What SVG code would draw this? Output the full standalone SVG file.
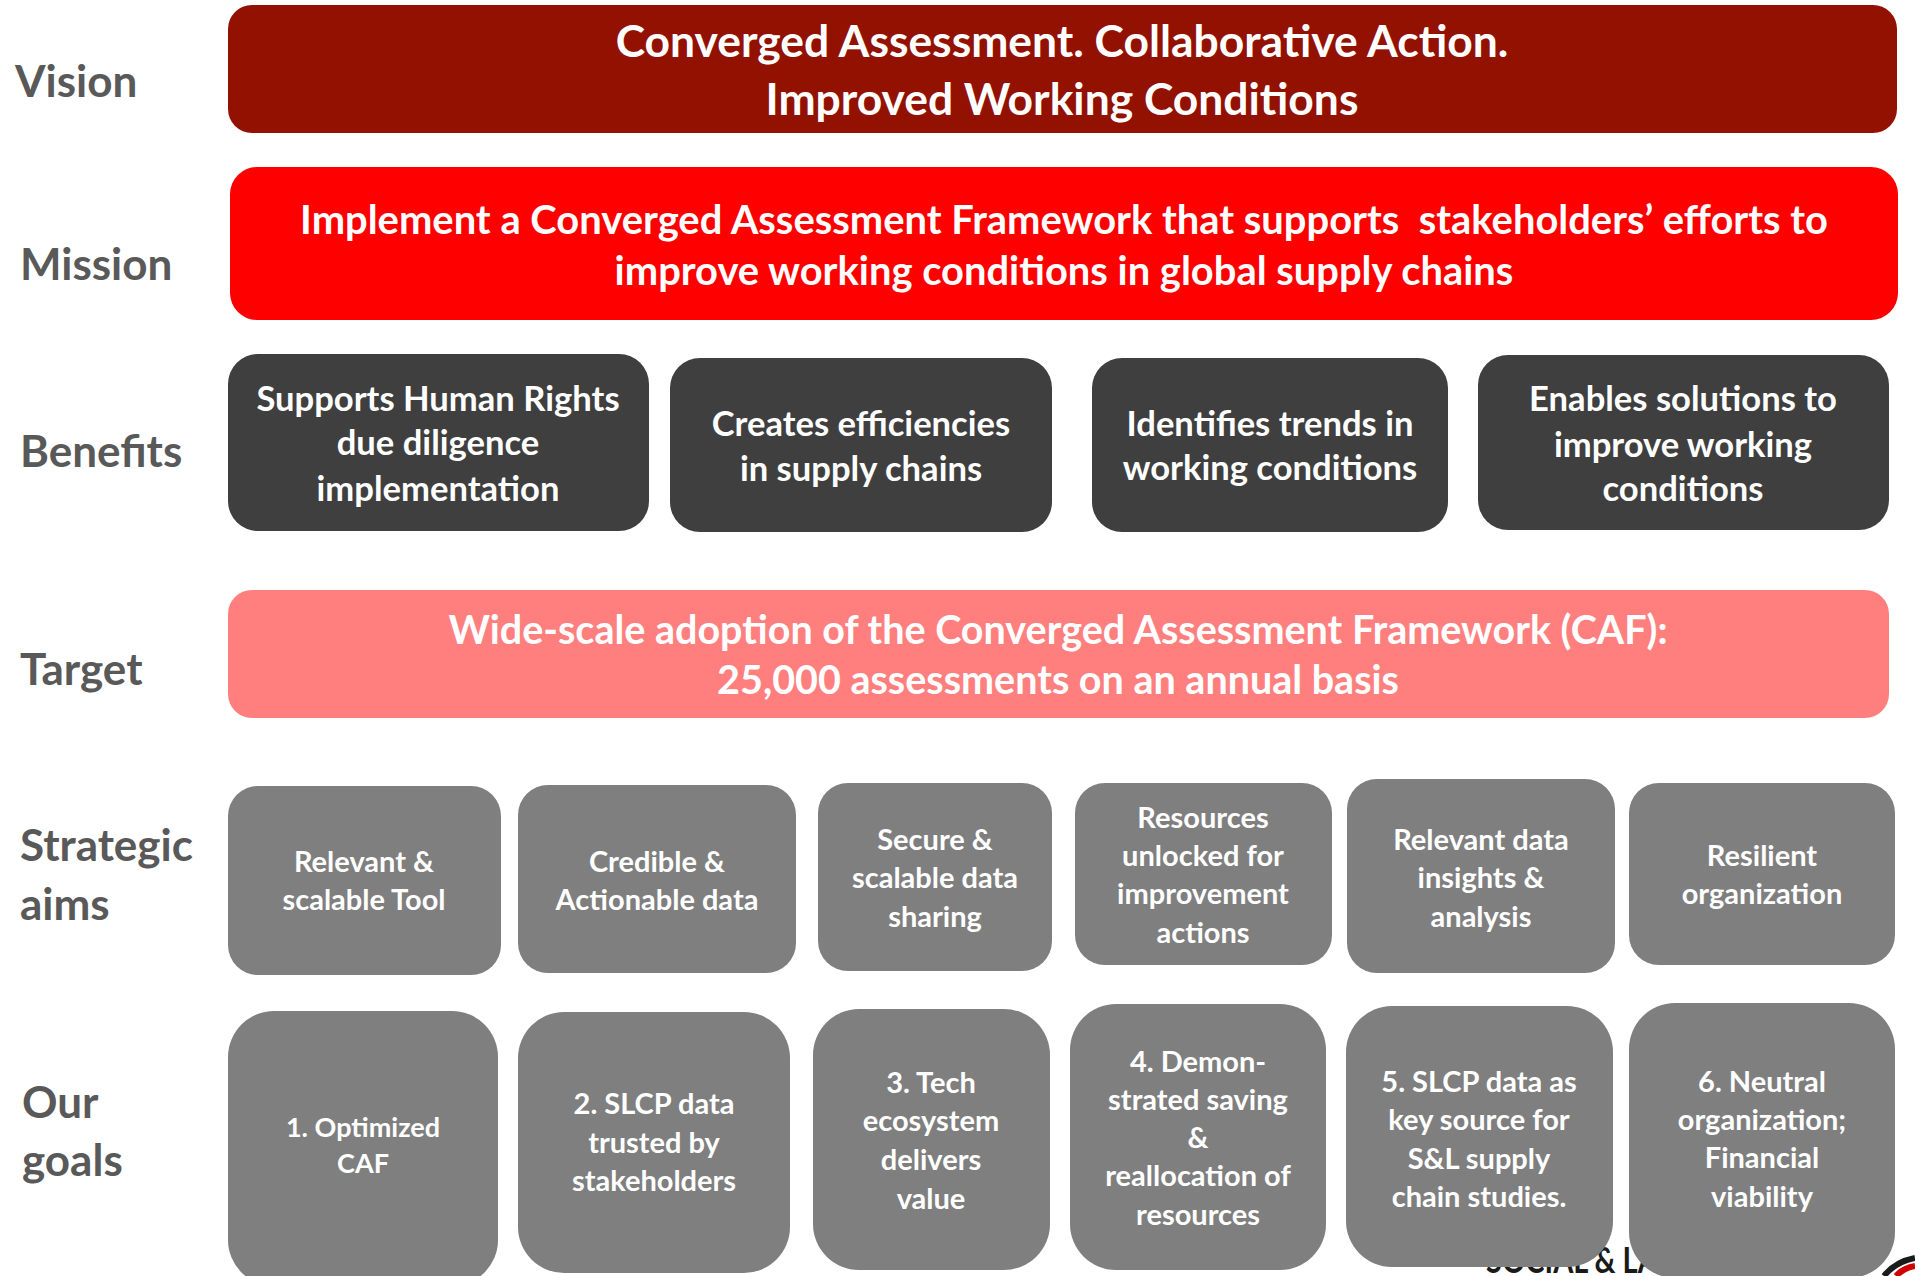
<svg xmlns="http://www.w3.org/2000/svg" width="1915" height="1276" viewBox="0 0 1915 1276">
  <style>
    text { font-family: Lato, "Open Sans", "Liberation Sans", sans-serif; font-weight: 700; }
    .lbl { fill: #595959; font-size: 44px; }
    .c { fill: #ffffff; text-anchor: middle; }
    .vis { font-size: 44.4px; }
    .mis { font-size: 39.9px; white-space: pre; }
    .ben { font-size: 34.6px; }
    .tgt { font-size: 39.5px; }
    .sm { font-size: 29px; }
    .sm2 { font-size: 27px; }
    .b-vision { fill: #931100; }
    .b-mission { fill: #ff0000; }
    .b-benefit { fill: #3f3f3f; }
    .b-target { fill: #ff7f7f; }
    .b-gray { fill: #7f7f7f; }
  </style>
  <rect width="1915" height="1276" fill="#ffffff"/>

  <!-- row labels -->
  <g id="labels">
    <text class="lbl" x="15" y="97">Vision</text>
    <text class="lbl" x="20" y="280">Mission</text>
    <text class="lbl" x="20" y="467">Benefits</text>
    <text class="lbl" x="20" y="685">Target</text>
    <text class="lbl" x="20" y="861">Strategic</text>
    <text class="lbl" x="20" y="920">aims</text>
    <text class="lbl" x="22" y="1118">Our</text>
    <text class="lbl" x="22" y="1176">goals</text>
  </g>

  <!-- logo fragment partly hidden behind the goal boxes -->
  <g id="logo">
    <text x="1486" y="1273" font-size="37" fill="#1a1a1a" textLength="233" lengthAdjust="spacingAndGlyphs">SOCIAL &amp; LABOR</text>
    <path d="M1884 1276 Q1895 1262 1915 1258" fill="none" stroke="#1a1a1a" stroke-width="6"/>
    <path d="M1896 1276 Q1903 1268 1915 1266" fill="none" stroke="#d00000" stroke-width="6"/>
  </g>

  <g id="vision">
    <rect class="b-vision" x="228" y="5" width="1669" height="128" rx="24"/>
    <text class="c vis" x="1062" y="57">Converged Assessment. Collaborative Action.</text>
    <text class="c vis" x="1062" y="115">Improved Working Conditions</text>
  </g>

  <g id="mission">
    <rect class="b-mission" x="230" y="167" width="1668" height="153" rx="27"/>
    <text class="c mis" x="1064" y="234">Implement a Converged Assessment Framework that supports  stakeholders’ efforts to</text>
    <text class="c mis" x="1064" y="285">improve working conditions in global supply chains</text>
  </g>

  <!-- benefits -->
  <g id="benefit-1">
    <rect class="b-benefit" x="228" y="354" width="421" height="177" rx="30"/>
    <text class="c ben" x="438" y="411">Supports Human Rights</text>
    <text class="c ben" x="438" y="455">due diligence</text>
    <text class="c ben" x="438" y="501">implementation</text>
  </g>
  <g id="benefit-2">
    <rect class="b-benefit" x="670" y="358" width="382" height="174" rx="30"/>
    <text class="c ben" x="861" y="436">Creates efficiencies</text>
    <text class="c ben" x="861" y="481">in supply chains</text>
  </g>
  <g id="benefit-3">
    <rect class="b-benefit" x="1092" y="358" width="356" height="174" rx="30"/>
    <text class="c ben" x="1270" y="436">Identifies trends in</text>
    <text class="c ben" x="1270" y="480">working conditions</text>
  </g>
  <g id="benefit-4">
    <rect class="b-benefit" x="1478" y="355" width="411" height="175" rx="30"/>
    <text class="c ben" x="1683" y="411">Enables solutions to</text>
    <text class="c ben" x="1683" y="457">improve working</text>
    <text class="c ben" x="1683" y="501">conditions</text>
  </g>

  <g id="target">
    <rect class="b-target" x="228" y="590" width="1661" height="128" rx="24"/>
    <text class="c tgt" x="1058" y="644">Wide-scale adoption of the Converged Assessment Framework (CAF):</text>
    <text class="c tgt" x="1058" y="694">25,000 assessments on an annual basis</text>
  </g>

  <!-- strategic aims -->
  <g id="aim-1">
    <rect class="b-gray" x="228" y="786" width="273" height="189" rx="30"/>
    <text class="c sm" x="364" y="872">Relevant &amp;</text>
    <text class="c sm" x="364" y="910">scalable Tool</text>
  </g>
  <g id="aim-2">
    <rect class="b-gray" x="518" y="785" width="278" height="188" rx="30"/>
    <text class="c sm" x="657" y="872">Credible &amp;</text>
    <text class="c sm" x="657" y="910">Actionable data</text>
  </g>
  <g id="aim-3">
    <rect class="b-gray" x="818" y="783" width="234" height="188" rx="30"/>
    <text class="c sm" x="935" y="850">Secure &amp;</text>
    <text class="c sm" x="935" y="888">scalable data</text>
    <text class="c sm" x="935" y="927">sharing</text>
  </g>
  <g id="aim-4">
    <rect class="b-gray" x="1075" y="783" width="257" height="182" rx="30"/>
    <text class="c sm" x="1203" y="828">Resources</text>
    <text class="c sm" x="1203" y="866">unlocked for</text>
    <text class="c sm" x="1203" y="904">improvement</text>
    <text class="c sm" x="1203" y="943">actions</text>
  </g>
  <g id="aim-5">
    <rect class="b-gray" x="1347" y="779" width="268" height="194" rx="30"/>
    <text class="c sm" x="1481" y="850">Relevant data</text>
    <text class="c sm" x="1481" y="888">insights &amp;</text>
    <text class="c sm" x="1481" y="927">analysis</text>
  </g>
  <g id="aim-6">
    <rect class="b-gray" x="1629" y="783" width="266" height="182" rx="30"/>
    <text class="c sm" x="1762" y="866">Resilient</text>
    <text class="c sm" x="1762" y="904">organization</text>
  </g>

  <!-- goals -->
  <g id="goal-1">
    <rect class="b-gray" x="228" y="1011" width="270" height="275" rx="46"/>
    <text class="c sm2" x="363" y="1137">1. Optimized</text>
    <text class="c sm2" x="363" y="1173">CAF</text>
  </g>
  <g id="goal-2">
    <rect class="b-gray" x="518" y="1012" width="272" height="261" rx="46"/>
    <text class="c sm" x="654" y="1114">2. SLCP data</text>
    <text class="c sm" x="654" y="1153">trusted by</text>
    <text class="c sm" x="654" y="1191">stakeholders</text>
  </g>
  <g id="goal-3">
    <rect class="b-gray" x="813" y="1009" width="237" height="261" rx="46"/>
    <text class="c sm" x="931" y="1093">3. Tech</text>
    <text class="c sm" x="931" y="1131">ecosystem</text>
    <text class="c sm" x="931" y="1170">delivers</text>
    <text class="c sm" x="931" y="1209">value</text>
  </g>
  <g id="goal-4">
    <rect class="b-gray" x="1070" y="1004" width="256" height="266" rx="46"/>
    <text class="c sm" x="1198" y="1072">4. Demon-</text>
    <text class="c sm" x="1198" y="1110">strated saving</text>
    <text class="c sm" x="1198" y="1148">&amp;</text>
    <text class="c sm" x="1198" y="1186">reallocation of</text>
    <text class="c sm" x="1198" y="1225">resources</text>
  </g>
  <g id="goal-5">
    <rect class="b-gray" x="1346" y="1006" width="267" height="261" rx="46"/>
    <text class="c sm" x="1479" y="1092">5. SLCP data as</text>
    <text class="c sm" x="1479" y="1130">key source for</text>
    <text class="c sm" x="1479" y="1169">S&amp;L supply</text>
    <text class="c sm" x="1479" y="1207">chain studies.</text>
  </g>
  <g id="goal-6">
    <rect class="b-gray" x="1629" y="1003" width="266" height="275" rx="46"/>
    <text class="c sm" x="1762" y="1092">6. Neutral</text>
    <text class="c sm" x="1762" y="1130">organization;</text>
    <text class="c sm" x="1762" y="1168">Financial</text>
    <text class="c sm" x="1762" y="1207">viability</text>
  </g>

  <!-- no connectors in this chart -->
  <g id="connectors"/>
</svg>
